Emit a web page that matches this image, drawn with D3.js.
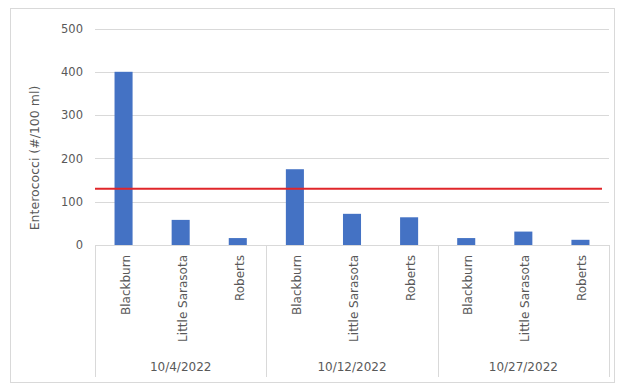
<!DOCTYPE html>
<html>
<head>
<meta charset="utf-8">
<script src="https://cdn.jsdelivr.net/npm/d3@7"></script>
<style>
  html, body { margin: 0; padding: 0; background: #fff; }
  svg { display: block; font-family: "DejaVu Sans", "Liberation Sans", sans-serif; }
</style>
</head>
<body>
<svg id="chart" width="618" height="386"></svg>
<script>
// Sampling dates (outer category level) and beach sites (inner level)
const dates = ["10/4/2022", "10/12/2022", "10/27/2022"];
const sites = ["Blackburn", "Little Sarasota", "Roberts"];

// Enterococci counts (#/100 ml), one array per date, in site order
const counts_oct4 = [400, 58, 16];
const counts_oct12 = [175, 72, 64];
const counts_oct27 = [16, 31, 12];
const countsByDate = [counts_oct4, counts_oct12, counts_oct27];

// Beach action threshold
const threshold = 130;

const yTicks = [0, 100, 200, 300, 400, 500];

const svg = d3.select("#chart");
const plot = { left: 95, right: 609, top: 28.5, bottom: 245 };
const labelBottom = 377;

const textColor = "#595959";
const gridColor = "#d9d9d9";
const barColor = "#4472c4";
const lineColor = "#e0262a";

// Chart frame
svg.append("rect")
  .attr("x", 10.5).attr("y", 8.5)
  .attr("width", 604).attr("height", 374)
  .attr("fill", "#fff")
  .attr("stroke", gridColor).attr("stroke-width", 1);

const y = d3.scaleLinear().domain([0, 500]).range([plot.bottom, plot.top]);
const x0 = d3.scaleBand().domain(dates).range([plot.left, plot.right]);
const x1 = d3.scaleBand().domain(sites).range([0, x0.bandwidth()]);
const barW = x1.bandwidth() * 0.316;

// Horizontal gridlines
svg.append("g")
  .selectAll("line")
  .data(yTicks.filter(t => t > 0))
  .join("line")
  .attr("x1", plot.left).attr("x2", plot.right)
  .attr("y1", d => Math.round(y(d)) + 0.5).attr("y2", d => Math.round(y(d)) + 0.5)
  .attr("stroke", gridColor).attr("stroke-width", 1);

// Y axis tick labels
const yAxis = d3.axisLeft(y).tickValues(yTicks).tickSize(0).tickPadding(12);
const yg = svg.append("g").attr("transform", `translate(${plot.left},0)`).call(yAxis);
yg.select(".domain").remove();
yg.selectAll("text")
  .attr("fill", textColor)
  .style("font-family", "DejaVu Sans")
  .style("font-size", "11.5px");

// Y axis title
svg.append("text")
  .attr("transform", "translate(39,158) rotate(-90)")
  .attr("text-anchor", "middle")
  .attr("fill", textColor)
  .style("font-size", "12.5px")
  .text("Enterococci (#/100 ml)");

// Bars
const groups = svg.append("g")
  .selectAll("g")
  .data(dates.map((d, i) => ({ date: d, values: countsByDate[i] })))
  .join("g")
  .attr("transform", d => `translate(${x0(d.date)},0)`);

groups.selectAll("rect")
  .data(d => d.values.map((v, j) => ({ site: sites[j], value: v })))
  .join("rect")
  .attr("x", d => x1(d.site) + (x1.bandwidth() - barW) / 2)
  .attr("width", barW)
  .attr("y", d => y(d.value))
  .attr("height", d => y(0) - y(d.value))
  .attr("fill", barColor);

// Category axis line and group separators
svg.append("line")
  .attr("x1", plot.left).attr("x2", plot.right)
  .attr("y1", plot.bottom + 0.5).attr("y2", plot.bottom + 0.5)
  .attr("stroke", gridColor);

const sepXs = dates.map(d => x0(d)).concat([plot.right]);
svg.append("g")
  .selectAll("line")
  .data(sepXs)
  .join("line")
  .attr("x1", d => Math.round(d) + 0.5).attr("x2", d => Math.round(d) + 0.5)
  .attr("y1", plot.bottom).attr("y2", labelBottom)
  .attr("stroke", gridColor);

// Site labels (rotated)
groups.selectAll("text.site")
  .data(sites)
  .join("text")
  .attr("class", "site")
  .attr("transform", d => `translate(${x1(d) + x1.bandwidth() / 2 + 6},${plot.bottom + 10}) rotate(-90)`)
  .attr("text-anchor", "end")
  .attr("fill", textColor)
  .style("font-size", "12px")
  .text(d => d);

// Date labels
groups.append("text")
  .attr("x", x0.bandwidth() / 2)
  .attr("y", 371)
  .attr("text-anchor", "middle")
  .attr("fill", textColor)
  .style("font-size", "12px")
  .text(d => d.date);

// Threshold line
svg.append("line")
  .attr("x1", plot.left).attr("x2", 602)
  .attr("y1", y(threshold)).attr("y2", y(threshold))
  .attr("stroke", lineColor).attr("stroke-width", 2);
</script>
</body>
</html>
